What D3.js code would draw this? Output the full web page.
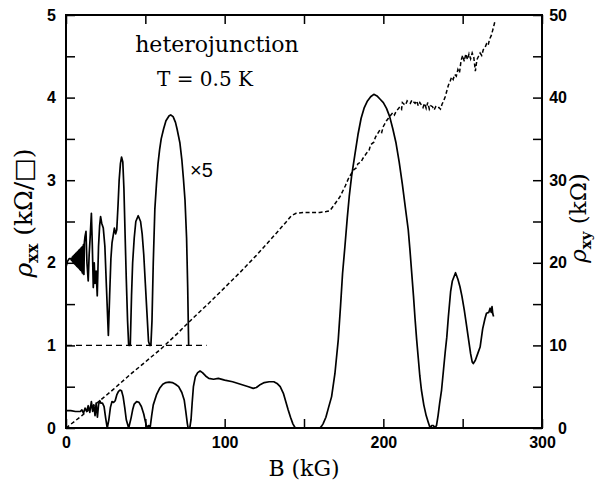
<!DOCTYPE html>
<html lang="en">
<head>
<meta charset="UTF-8">
<title>heterojunction rho_xx / rho_xy</title>
<style>
  body { margin: 0; background: #fff; }
  svg { display: block; }
  .tick text { font-family: "Liberation Sans", Arial, sans-serif; font-size: 16px; font-weight: bold; fill: #000; }
  .tick line { stroke: #000; stroke-width: 1.5; }
  .serif { font-family: "DejaVu Serif", "Liberation Serif", serif; fill: #000; }
</style>
</head>
<body>
<svg id="chart"></svg>
<script src="https://d3js.org/d3.v7.min.js"></script>
<script>
// rho_xx (kOhm/sq), measured curve  [B (kG), value]
const rhoXX = [
  [0,0.21],[3,0.21],[6,0.2],[9,0.2],[10,0.22],[11,0.18],[12,0.24],[13,0.2],[14,0.27],[15,0.19],
  [16,0.32],[16.8,0.2],[17.5,0.28],[18.3,0.15],[19,0.3],[19.8,0.13],[20.5,0.28],[21.3,0.33],[22,0.3],
  [23,0.3],[24,0.26],[25,0.12],[26,0],[27,0.1],[28,0.25],[29,0.32],[30,0.31],[31,0.33],[32,0.4],
  [33,0.44],[34,0.46],[35,0.45],[36,0.38],[37,0.25],[38,0.1],[39.5,0],[41,0.12],[42,0.22],[43,0.29],
  [44.5,0.32],[46,0.31],[47.5,0.26],[49,0.17],[50,0.08],[51,0],[52,0.03],[53,0],[54,0.15],[55,0.28],
  [57,0.4],[59,0.48],[61,0.53],[63,0.55],[65,0.555],[67,0.55],[69,0.53],[71,0.5],[73,0.43],[74.5,0.34],
  [75.5,0.2],[76.5,0.05],[77,0],[78,0],[78.8,0.1],[79.5,0.3],[80.3,0.5],[81.5,0.62],[83,0.67],[84.5,0.69],
  [86,0.67],[88,0.63],[90,0.6],[93,0.59],[96,0.6],[100,0.58],[105,0.56],[110,0.53],[115,0.5],[118,0.48],
  [120,0.49],[122,0.52],[125,0.55],[128,0.56],[131,0.56],[133,0.54],[135,0.5],[137,0.42],[138.5,0.32],
  [140,0.22],[141.5,0.13],[143,0.05],[144.5,0],[160,0],[161,0.02],[162,0.05],[163.8,0.13],[165.5,0.25],
  [167.4,0.38],[169.5,0.66],[171.6,1.07],[173,1.47],[174.3,1.87],[175.8,2.2],[177.3,2.55],[178.5,2.8],
  [180,3.05],[182,3.3],[184,3.55],[186,3.75],[188,3.88],[190,3.96],[192,4.01],[194,4.04],[196,4.02],
  [198,3.98],[200,3.94],[202,3.87],[204,3.77],[206,3.62],[208,3.45],[210,3.22],[212,2.95],[214,2.65],
  [215.7,2.4],[216.8,2.15],[217.8,1.9],[219,1.6],[220,1.32],[221,1.07],[222,0.85],[223,0.63],[224,0.46],
  [225.5,0.28],[227,0.15],[228.3,0.07],[229.5,0],[230.5,0.03],[231.5,0.03],[232.5,0],[233.5,0.03],
  [234.5,0.15],[235.5,0.3],[236.7,0.46],[238,0.72],[239,0.92],[240,1.1],[241,1.35],[242.4,1.65],
  [243.5,1.78],[245.5,1.88],[247,1.8],[248.3,1.71],[249.5,1.6],[251,1.43],[252,1.3],[253.5,1.1],
  [255,0.9],[256,0.8],[256.7,0.78],[258,0.82],[259.5,0.9],[261,0.98],[262.6,1.2],[264,1.32],[265,1.39],
  [266.5,1.4],[267.3,1.45],[268,1.4],[268.5,1.47],[269,1.38],[269.5,1.35]
];

// rho_xx x5, drawn on an offset of 1
const rhoXX5 = [
  [0,1.95],[1,2.02],[2,2.05],[3,2.05],[3.5,2.03],[4,2.07],[4.25,2.01],[4.5,2.08],[4.75,2.0],[5,2.09],
  [5.25,1.99],[5.5,2.1],[5.75,1.98],[6,2.11],[6.25,1.97],[6.5,2.12],[6.75,1.96],[7,2.13],[7.25,1.95],
  [7.5,2.14],[7.75,1.94],[8,2.15],[8.25,1.93],[8.5,2.16],[8.75,1.92],[9,2.17],[9.25,1.91],[9.5,2.18],
  [9.75,1.9],[10,2.19],[10.25,1.88],[10.5,2.2],[10.75,1.87],[11,2.22],[11.3,1.86],[11.6,2.25],
  [12,2.32],[12.6,2.38],
  [13.2,2.0],[14,1.78],[14.6,2.1],[15.2,2.3],[16,2.6],[16.6,2.2],[17.2,1.7],[17.8,2.0],[18.3,1.75],
  [19,1.9],[19.7,1.6],[20.5,2.2],[21.2,2.45],[21.8,2.56],[22.5,2.48],[23.5,2.42],[24.5,2.2],[25.5,1.7],
  [26.7,1.12],[27.5,1.6],[28.3,2.05],[29,2.24],[30,2.36],[30.5,2.42],[31.3,2.35],[32,2.4],[32.8,2.7],
  [33.5,3.0],[34.3,3.2],[35,3.28],[35.8,3.22],[36.5,2.9],[37.3,2.3],[38,1.8],[38.8,1.3],[39.5,1.0],
  [40.5,1.0],[41.3,1.6],[42,2.0],[43,2.3],[44,2.5],[45.5,2.57],[47,2.5],[48,2.35],[49,2.1],[50,1.75],
  [51,1.4],[52,1.05],[52.8,1.0],[53.5,1.0],[54.2,1.3],[55,2.0],[56,2.65],[57,2.95],[58,3.2],[59,3.37],
  [60,3.5],[61.5,3.62],[63,3.72],[65,3.78],[66,3.79],[67.5,3.77],[69,3.7],[70,3.62],[71.8,3.45],
  [73,3.25],[74,3.02],[75,2.76],[76,2.3],[76.7,1.7],[77.3,1.0]
];

// baseline of the x5 curve
const baseX5 = [[0,1],[88.6,1]];

// rho_xy (kOhm), right axis
const rhoXY = [
  [0,0],[10,1.5],[20,3.1],[30,4.7],[40,6.4],[50,8.0],[60,9.6],[70,11.4],[80,13.3],[90,15.1],
  [100,17.0],[110,18.9],[120,20.9],[128,22.6],[134,23.9],[139,25.0],[142,25.7],[145,26.0],[150,26.1],
  [155,26.1],[160,26.1],[164,26.2],[166.3,26.3],[169,27.0],[172.7,28.0],[176,29.3],[178,30.2],
  [181,31.2],[183,31.5],[184,32.0],[186,32.2],[187,32.6],[189.5,33.3],[191,33.6],[192,34.3],[194,34.6],
  [195,35.2],[197.9,36.1],[199,35.8],[200,36.5],[202,37.2],[204,37.7],[206,38.2],[207,37.9],[208,38.3],
  [210.5,38.9],[211.5,38.6],[212,39.4],[213,39.2],[214,39.1],[215,39.6],[216,39.4],[217,39.3],
  [218,39.7],[219,39.5],[220,39.3],[221,39.6],[222,39.0],[223,39.4],[224,39.1],[225,38.8],[226,39.3],
  [227,38.7],[228,39.4],[229,38.6],[230,39.0],[231,38.9],[232,38.5],[233,38.9],[234,38.7],[235,38.8],
  [236,38.6],[237,39.2],[238,39.6],[239,40.1],[240,40.8],[241,41.5],[242,41.9],[243,42.5],[244,42.2],
  [245,42.8],[246,42.6],[247,43.4],[248,43.0],[249,44.5],[250,45.1],[251,44.4],[252,45.3],[253,44.6],
  [254,45.3],[255,44.7],[256,45.4],[257,44.9],[258,43.2],[259,44.6],[260,45.0],[261,45.4],[262,45.1],
  [263,45.8],[264,46.0],[265,46.5],[266,46.3],[267,47.1],[268,47.5],[269,48.2],[270.3,49.2]
];

const xTicks = [0, 100, 200, 300];
const xMinor = [50, 150, 250];
const yTicks = [0, 1, 2, 3, 4, 5];
const yMinor = [0.5, 1.5, 2.5, 3.5, 4.5];
const y2Ticks = [0, 10, 20, 30, 40, 50];
const y2Minor = [5, 15, 25, 35, 45];

const width = 596, height = 485;
const margin = {top: 15, right: 54, bottom: 57, left: 66};
const iw = width - margin.left - margin.right;
const ih = height - margin.top - margin.bottom;

const svg = d3.select("#chart").attr("width", width).attr("height", height);
const g = svg.append("g").attr("transform", `translate(${margin.left},${margin.top})`);

const x = d3.scaleLinear().domain([0, 300]).range([0, iw]);
const y = d3.scaleLinear().domain([0, 5]).range([ih, 0]);
const y2 = d3.scaleLinear().domain([0, 50]).range([ih, 0]);

const T = 9; // inward tick length
const fmt = d3.format("d");

// bottom / top
g.append("g").attr("transform", `translate(0,${ih})`)
  .call(d3.axisBottom(x).tickValues(xTicks).tickSize(-T).tickPadding(9).tickFormat(fmt));
g.append("g").attr("transform", `translate(0,${ih})`)
  .call(d3.axisBottom(x).tickValues(xMinor).tickSize(-T).tickFormat(""));
g.append("g").call(d3.axisTop(x).tickValues(xTicks.concat(xMinor)).tickSize(-T).tickFormat(""));

// left
g.append("g").call(d3.axisLeft(y).tickValues(yTicks).tickSize(-T).tickPadding(10).tickFormat(fmt));
g.append("g").call(d3.axisLeft(y).tickValues(yMinor).tickSize(-T).tickFormat(""));

// right
const rAx = g.append("g").attr("transform", `translate(${iw},0)`)
  .call(d3.axisRight(y2).tickValues(y2Ticks).tickSize(-T).tickFormat(fmt));
rAx.selectAll("text").attr("text-anchor", "end").attr("x", 25);
g.append("g").attr("transform", `translate(${iw},0)`)
  .call(d3.axisRight(y2).tickValues(y2Minor).tickSize(-T).tickFormat(""));

g.selectAll(".domain").remove();
g.append("rect").attr("width", iw).attr("height", ih)
  .attr("fill", "none").attr("stroke", "#000").attr("stroke-width", 2);

// curves
const line = d3.line().x(d => x(d[0])).y(d => y(d[1]));
const line2 = d3.line().x(d => x(d[0])).y(d => y2(d[1]));

g.append("path").datum(baseX5).attr("d", line)
  .attr("fill", "none").attr("stroke", "#000").attr("stroke-width", 1.4)
  .attr("stroke-dasharray", "6,4");
g.append("path").datum(rhoXY).attr("d", line2)
  .attr("fill", "none").attr("stroke", "#000").attr("stroke-width", 1.5)
  .attr("stroke-dasharray", "4,2.5");
g.append("path").datum(rhoXX).attr("d", line)
  .attr("fill", "none").attr("stroke", "#000").attr("stroke-width", 1.7)
  .attr("stroke-linejoin", "round");
g.append("path").datum(rhoXX5).attr("d", line)
  .attr("fill", "none").attr("stroke", "#000").attr("stroke-width", 1.7)
  .attr("stroke-linejoin", "round");

// annotations
svg.append("text").attr("class", "serif").attr("x", 217).attr("y", 52)
  .attr("text-anchor", "middle").attr("font-size", 22).text("heterojunction");
svg.append("text").attr("class", "serif").attr("x", 205).attr("y", 86)
  .attr("text-anchor", "middle").attr("font-size", 20).text("T = 0.5 K");
svg.append("text").attr("x", 190).attr("y", 177)
  .attr("font-family", "Liberation Sans, Arial, sans-serif").attr("font-size", 20).text("×5");

// axis titles
svg.append("text").attr("class", "serif").attr("x", 304).attr("y", 476)
  .attr("text-anchor", "middle").attr("font-size", 22).text("B (kG)");

const yl = svg.append("text").attr("class", "serif").attr("font-size", 25)
  .attr("text-anchor", "middle").attr("transform", "translate(32,213) rotate(-90)");
yl.append("tspan").attr("font-style", "italic").text("ρ");
yl.append("tspan").attr("font-size", 16).attr("font-weight", "bold").attr("dy", 6).text("xx");
yl.append("tspan").attr("dy", -6).text(" (kΩ/□)");

const yr = svg.append("text").attr("class", "serif").attr("font-size", 23)
  .attr("text-anchor", "middle").attr("transform", "translate(586,218) rotate(-90)");
yr.append("tspan").attr("font-style", "italic").text("ρ");
yr.append("tspan").attr("font-size", 15).attr("font-weight", "bold").attr("dy", 5).text("xy");
yr.append("tspan").attr("dy", -5).text(" (kΩ)");
</script>
</body>
</html>
